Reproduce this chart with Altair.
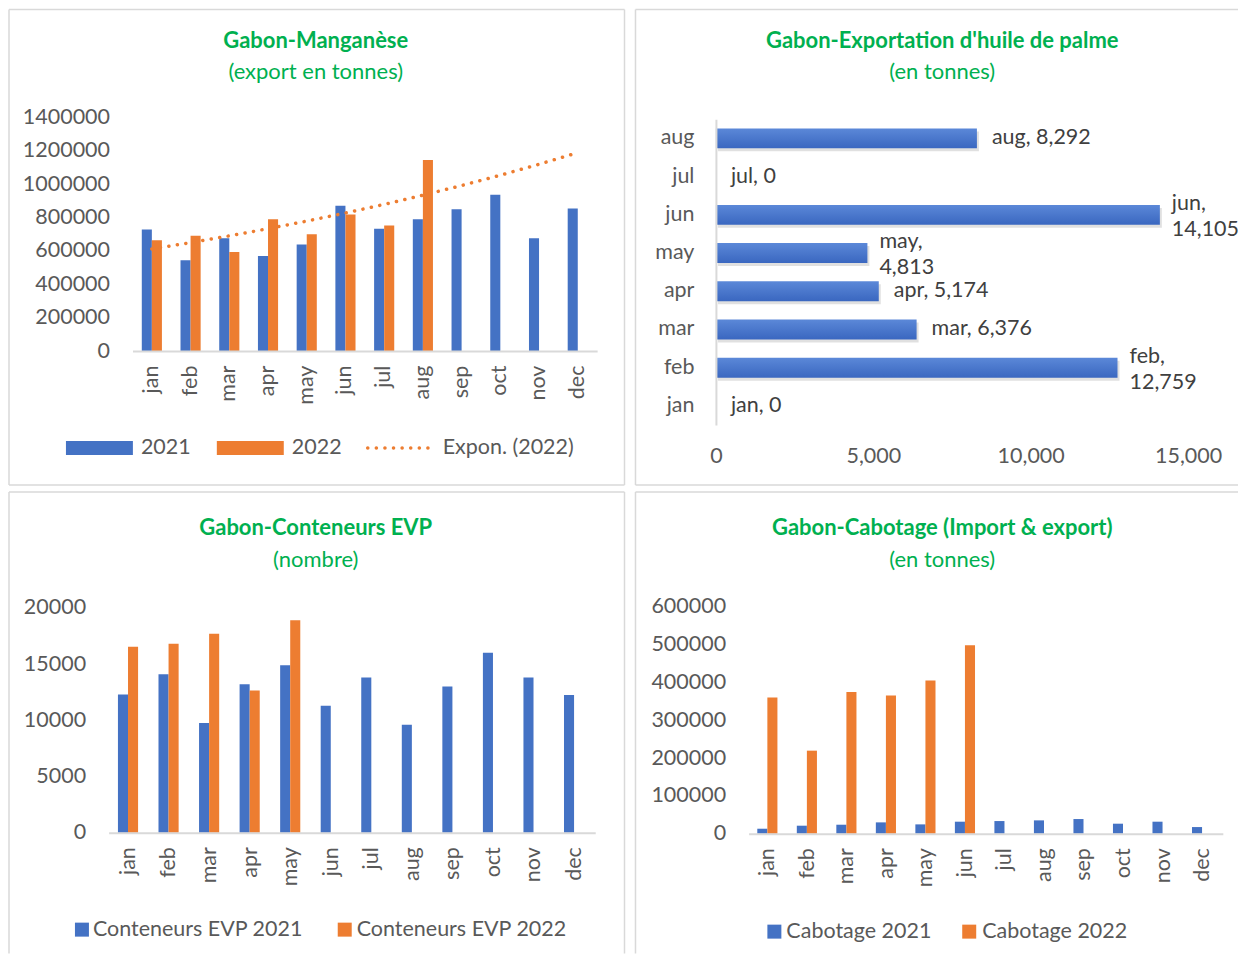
import altair as alt
import pandas as pd

FONT = "Lato"
BLUE = "#4472C4"
ORANGE = "#ED7D31"
GREEN = "#00B050"
LABEL = "#595959"
DATALABEL = "#404040"
AXISLINE = "#D9D9D9"
BORDER = "#D9D9D9"
FS = 21.5      # axis / legend / data label font size
TFS = 22       # title font size

MONTHS = ["jan", "feb", "mar", "apr", "may", "jun", "jul", "aug", "sep", "oct", "nov", "dec"]
YEARS = ["2021", "2022"]

# Manganese exports (tonnes)
MN_2021 = [728000, 544000, 676000, 570000, 638000, 870000, 732000, 790000, 850000, 936000, 676000, 854000]
MN_2022 = [664000, 690000, 594000, 790000, 700000, 818000, 752000, 1144000]

# Palm oil exports (tonnes) 2022
PALM_MONTHS = ["jan", "feb", "mar", "apr", "may", "jun", "jul", "aug"]
PALM_VALUES = [0, 12759, 6376, 5174, 4813, 14105, 0, 8292]
PALM_WRAP = [False, True, False, False, True, True, False, False]

# Containers EVP (number)
EVP_2021 = [12300, 14100, 9750, 13200, 14900, 11300, 13800, 9600, 13000, 16000, 13800, 12250]
EVP_2022 = [16550, 16800, 17700, 12650, 18900]

# Cabotage (tonnes)
CAB_2021 = [13200, 21200, 23800, 30000, 24700, 31800, 33500, 35300, 38800, 26500, 31800, 17600]
CAB_2022 = [360000, 219700, 375000, 365300, 405000, 498500]

TITLES = ["Gabon-Manganèse", "Gabon-Exportation d'huile de palme",
          "Gabon-Conteneurs EVP", "Gabon-Cabotage (Import & export)"]
SUBTITLES = ["(export en tonnes)", "(en tonnes)", "(nombre)", "(en tonnes)"]
LEG_MN = ["2021", "2022", "Expon. (2022)"]
LEG_EVP = ["Conteneurs EVP 2021", "Conteneurs EVP 2022"]
LEG_CAB = ["Cabotage 2021", "Cabotage 2022"]


def long_df(v21, v22):
    rows = [{"month": m, "year": "2021", "v": v} for m, v in zip(MONTHS, v21)]
    rows += [{"month": m, "year": "2022", "v": v} for m, v in zip(MONTHS, v22)]
    return pd.DataFrame(rows)


def dummy():
    return pd.DataFrame({"k": [0]})


def text_layer(txt, x, y, size=FS, color=LABEL, bold=False, align="left"):
    return alt.Chart(pd.DataFrame({"t": [txt]})).mark_text(
        font=FONT, fontSize=size, fontWeight="bold" if bold else "normal",
        color=color, align=align, baseline="middle"
    ).encode(x=alt.value(x), y=alt.value(y), text="t:N")


def rect_layer(x, x2, y, y2, color):
    return alt.Chart(dummy()).mark_rect(color=color).encode(
        x=alt.value(x), x2=alt.value(x2), y=alt.value(y), y2=alt.value(y2))


def hline(x, x2, y):
    return alt.Chart(dummy()).mark_rule(color=BORDER, strokeWidth=1.5).encode(
        x=alt.value(x), x2=alt.value(x2), y=alt.value(y))


def vline(x, y, y2):
    return alt.Chart(dummy()).mark_rule(color=BORDER, strokeWidth=1.5).encode(
        x=alt.value(x), y=alt.value(y), y2=alt.value(y2))


def frame(w, h, left=True, top=True, right=True, bottom=True):
    layers = []
    if left:
        layers.append(vline(1, 1, h - 1))
    if right:
        layers.append(vline(w - 1, 1, h - 1))
    if top:
        layers.append(hline(1, w - 1, 1))
    if bottom:
        layers.append(hline(1, w - 1, h - 1))
    return layers


def titles(i, cx, y1, y2):
    return [text_layer(TITLES[i], cx, y1, size=TFS, color=GREEN, bold=True, align="center"),
            text_layer(SUBTITLES[i], cx, y2, size=TFS, color=GREEN, align="center")]


def y_axis(ymax, ystep, xr):
    return alt.Axis(title=None, values=list(range(0, ymax + 1, ystep)), format="d",
                    domain=False, ticks=False, grid=False, labelPadding=23,
                    labelOverlap=False, offset=-xr[0], zindex=2)


def grouped_bars(df, ymax, ystep, pin, xr, yr, fh):
    x = alt.X("month:N", sort=MONTHS,
              scale=alt.Scale(domain=MONTHS, paddingInner=pin, paddingOuter=pin / 2, range=xr),
              axis=alt.Axis(title=None, labelAngle=-90, labelPadding=14, domain=True,
                            domainColor=AXISLINE, domainWidth=2, ticks=False, grid=False,
                            labelOverlap=False, offset=yr[0] - fh, zindex=2))
    y = alt.Y("v:Q", scale=alt.Scale(domain=[0, ymax], range=yr), axis=y_axis(ymax, ystep, xr))
    return alt.Chart(df).mark_bar().encode(
        x=x, y=y,
        xOffset=alt.XOffset("year:N", scale=alt.Scale(domain=YEARS)),
        color=alt.Color("year:N", scale=alt.Scale(domain=YEARS, range=[BLUE, ORANGE]), legend=None),
    )


# ---------------- Panel 1: Manganese ----------------
FW1, FH1 = 618, 478
XR1, YR1 = [124.6, 589.6], [343, 109]
bars1 = grouped_bars(long_df(MN_2021, MN_2022), 1400000, 200000, 0.48, XR1, YR1, FH1)

trend_df = pd.DataFrame({"m": list(range(1, 13)), "v": MN_2022 + [None] * (12 - len(MN_2022))})
trend = alt.Chart(trend_df).transform_calculate(
    ok="isValid(datum.v) && datum.v > 0 ? 1 : 0"
).transform_calculate(
    lx="datum.ok ? datum.m : 0", ly="datum.ok ? log(datum.v) : 0"
).transform_joinaggregate(
    n="sum(ok)", sx="sum(lx)", sy="sum(ly)"
).transform_calculate(
    dx="datum.ok ? datum.m - datum.sx / datum.n : 0",
    dy="datum.ok ? datum.ly - datum.sy / datum.n : 0"
).transform_calculate(
    pxy="datum.dx * datum.dy", pxx="datum.dx * datum.dx"
).transform_joinaggregate(
    sxy="sum(pxy)", sxx="sum(pxx)"
).transform_calculate(
    v="exp(datum.sy / datum.n + datum.sxy / datum.sxx * (datum.m - datum.sx / datum.n))"
).mark_line(color=ORANGE, strokeWidth=3.5, strokeDash=[0.1, 8.5], strokeCap="round").encode(
    x=alt.X("m:Q", scale=alt.Scale(domain=[0.5, 12.5], range=XR1), axis=None),
    y=alt.Y("v:Q", scale=alt.Scale(domain=[0, 1400000], range=YR1),
            axis=y_axis(1400000, 200000, XR1)),
)

leg1 = [
    rect_layer(58, 125, 433, 447, BLUE),
    text_layer(LEG_MN[0], 133, 440),
    rect_layer(209, 276, 433, 447, ORANGE),
    text_layer(LEG_MN[1], 284, 440),
    alt.Chart(dummy()).mark_rule(color=ORANGE, strokeWidth=3.5, strokeDash=[0.1, 8.5],
                                 strokeCap="round").encode(
        x=alt.value(360), x2=alt.value(428), y=alt.value(440)),
    text_layer(LEG_MN[2], 435, 440),
]

p1 = alt.layer(
    *frame(FW1, FH1),
    bars1, trend,
    *titles(0, 308, 33, 64),
    *leg1,
).resolve_scale(x="independent").properties(width=FW1, height=FH1)

# ---------------- Panel 2: Palm oil ----------------
FW2, FH2 = 605, 478
XR2, YR2 = [81.5, 554], [111, 417]
palm_df = pd.DataFrame({
    "month": PALM_MONTHS,
    "v": PALM_VALUES,
    "wrap": PALM_WRAP,
    "label": [f"{m},\n{v:,}" if w else f"{m}, {v:,}" for m, v, w in zip(PALM_MONTHS, PALM_VALUES, PALM_WRAP)],
})
ysort = PALM_MONTHS[::-1]
py = alt.Y("month:N", sort=ysort,
           scale=alt.Scale(domain=ysort, paddingInner=0.48, paddingOuter=0.24, range=YR2),
           axis=alt.Axis(title=None, domain=True, domainColor=AXISLINE, domainWidth=2,
                         ticks=False, grid=False, labelPadding=22, labelOverlap=False,
                         offset=-XR2[0], zindex=2))
px = alt.X("v:Q", scale=alt.Scale(domain=[0, 15000], range=XR2),
           axis=alt.Axis(title=None, values=[0, 5000, 10000, 15000], format=",d",
                         domain=False, ticks=False, grid=False, labelPadding=20,
                         labelOverlap=False, labelFlush=False, offset=YR2[1] - FH2, zindex=2))
grad = alt.Gradient(gradient="linear",
                    stops=[alt.GradientStop(color="#5B88D8", offset=0),
                           alt.GradientStop(color="#3A67C0", offset=1)],
                    x1=0, x2=0, y1=0, y2=1)
shadow = alt.Chart(palm_df).mark_bar(color="#000000", opacity=0.12, xOffset=2, yOffset=3).encode(x=px, y=py)
bars2 = alt.Chart(palm_df).mark_bar(color=grad).encode(x=px, y=py)
labels2a = alt.Chart(palm_df).transform_filter("!datum.wrap").mark_text(
    font=FONT, fontSize=FS, color=DATALABEL, align="left", baseline="middle", dx=15
).encode(x=px, y=py, text="label:N")
labels2b = alt.Chart(palm_df).transform_filter("datum.wrap").mark_text(
    font=FONT, fontSize=FS, color=DATALABEL, align="left", baseline="middle",
    dx=12, dy=-11, lineBreak="\n", lineHeight=26
).encode(x=px, y=py, text="label:N")

p2 = alt.layer(
    *frame(FW2, FH2, right=False),
    shadow, bars2, labels2a, labels2b,
    *titles(1, 308, 33, 64),
).properties(width=FW2, height=FH2)

# ---------------- Panel 3: Containers ----------------
FW3, FH3 = 618, 464
XR3, YR3 = [100.7, 587.7], [342, 117]
bars3 = grouped_bars(long_df(EVP_2021, EVP_2022), 20000, 5000, 0.46, XR3, YR3, FH3)
leg3 = [
    rect_layer(67, 81, 432, 446, BLUE),
    text_layer(LEG_EVP[0], 85, 439),
    rect_layer(330, 344, 432, 446, ORANGE),
    text_layer(LEG_EVP[1], 349, 439),
]
p3 = alt.layer(
    *frame(FW3, FH3, bottom=False),
    bars3,
    *titles(2, 308, 37, 69),
    *leg3,
).properties(width=FW3, height=FH3)

# ---------------- Panel 4: Cabotage ----------------
FW4, FH4 = 605, 464
XR4, YR4 = [114.2, 588.8], [343, 116]
bars4 = grouped_bars(long_df(CAB_2021, CAB_2022), 600000, 100000, 0.44, XR4, YR4, FH4)
leg4 = [
    rect_layer(133, 147, 434, 448, BLUE),
    text_layer(LEG_CAB[0], 152, 441),
    rect_layer(328, 342, 434, 448, ORANGE),
    text_layer(LEG_CAB[1], 348, 441),
]
p4 = alt.layer(
    *frame(FW4, FH4, right=False, bottom=False),
    bars4,
    *titles(3, 308, 37, 69),
    *leg4,
).properties(width=FW4, height=FH4)

chart = alt.vconcat(
    alt.hconcat(p1, p2, spacing=9),
    alt.hconcat(p3, p4, spacing=9),
    spacing=5,
).properties(
    padding={"left": 0, "top": 0, "right": 0, "bottom": 0},
    background="white",
).configure_view(
    strokeWidth=0
).configure_axis(
    labelFont=FONT, labelFontSize=FS, labelColor=LABEL
)

chart.save("out.html", embed_options={"renderer": "svg", "actions": False})
